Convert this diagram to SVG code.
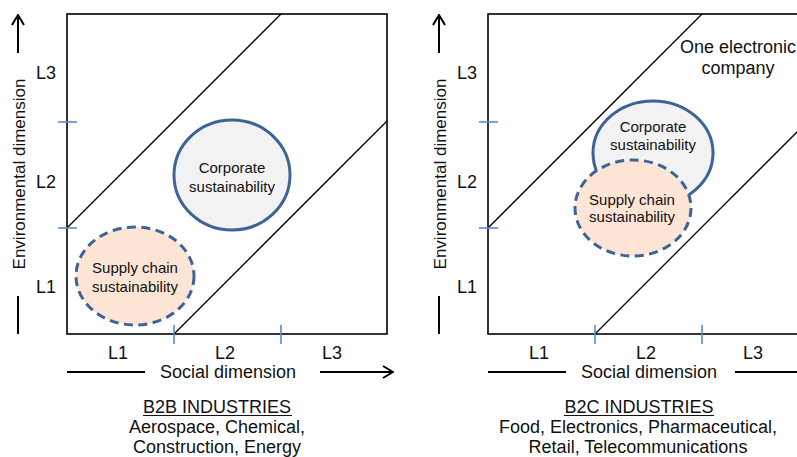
<svg xmlns="http://www.w3.org/2000/svg" width="797" height="457" viewBox="0 0 797 457">
<style>
text{font-family:"Liberation Sans",Arial,Helvetica,sans-serif;fill:#111}
.lbl{font-size:18px;text-anchor:middle}
.small{font-size:15px;text-anchor:middle}
.box{fill:#fff;stroke:#000;stroke-width:1.6}
.diag{stroke:#000;stroke-width:1.3;fill:none}
.tick{stroke:#5b8cc8;stroke-width:1.6}
.axis{stroke:#000;stroke-width:2;fill:none}
.corp{fill:#f2f2f2;stroke:#3d6494;stroke-width:3}
.supp{fill:#fce5d5;stroke:#3d6494;stroke-width:3;stroke-dasharray:9 5.5}
.ul{stroke:#111;stroke-width:1.2}
</style>
<defs>
<marker id="arr" viewBox="0 0 12 14" refX="11" refY="7" markerWidth="12" markerHeight="14" markerUnits="userSpaceOnUse" orient="auto">
<path d="M1,1 L11,7 L1,13" fill="none" stroke="#000" stroke-width="2"/>
</marker>
</defs>

<g id="panel-left">
<rect class="box" x="67" y="14" width="320" height="320"/>
<line class="diag" x1="67" y1="228" x2="281" y2="14"/>
<line class="diag" x1="174" y1="334" x2="387" y2="121"/>
<line class="tick" x1="58" y1="122" x2="77" y2="122"/>
<line class="tick" x1="58" y1="228" x2="77" y2="228"/>
<line class="tick" x1="174" y1="325" x2="174" y2="344"/>
<line class="tick" x1="281" y1="325" x2="281" y2="344"/>
<text class="lbl" x="46" y="79">L3</text>
<text class="lbl" x="46" y="188">L2</text>
<text class="lbl" x="46" y="293">L1</text>
<text class="lbl" x="118" y="359">L1</text>
<text class="lbl" x="225" y="359">L2</text>
<text class="lbl" x="332" y="359">L3</text>
</g>

<g id="node-corporate-left">
<ellipse class="corp" cx="232" cy="175" rx="58" ry="55"/>
<text class="small" x="232" y="173">Corporate</text>
<text class="small" x="232" y="192">sustainability</text>
</g>
<g id="node-supply-left">
<ellipse class="supp" cx="135" cy="276" rx="59" ry="49"/>
<text class="small" x="135" y="273">Supply chain</text>
<text class="small" x="135" y="292">sustainability</text>
</g>

<g id="axes-left">
<line class="axis" x1="67" y1="372" x2="145" y2="372"/>
<text class="lbl" x="228" y="378">Social dimension</text>
<line class="axis" x1="320" y1="372" x2="393" y2="372" marker-end="url(#arr)"/>
<line class="axis" x1="18" y1="334" x2="18" y2="296"/>
<text class="lbl" font-size="17" style="font-size:17px" transform="translate(25,174) rotate(-90)">Environmental dimension</text>
<line class="axis" x1="18" y1="53" x2="18" y2="15" marker-end="url(#arr)"/>
</g>

<g id="caption-left">
<text class="lbl" x="217" y="413">B2B INDUSTRIES</text>
<line class="ul" x1="143" y1="415.5" x2="292" y2="415.5"/>
<text class="lbl" x="217" y="433">Aerospace, Chemical,</text>
<text class="lbl" x="217" y="453">Construction, Energy</text>
</g>

<g id="panel-right">
<rect class="box" x="488" y="14" width="320" height="320"/>
<line class="diag" x1="488" y1="228" x2="702" y2="14"/>
<line class="diag" x1="595" y1="334" x2="808" y2="121"/>
<line class="tick" x1="479" y1="122" x2="498" y2="122"/>
<line class="tick" x1="479" y1="228" x2="498" y2="228"/>
<line class="tick" x1="595" y1="325" x2="595" y2="344"/>
<line class="tick" x1="702" y1="325" x2="702" y2="344"/>
<text class="lbl" x="467" y="79">L3</text>
<text class="lbl" x="467" y="188">L2</text>
<text class="lbl" x="467" y="293">L1</text>
<text class="lbl" x="539" y="359">L1</text>
<text class="lbl" x="646" y="359">L2</text>
<text class="lbl" x="753" y="359">L3</text>
<text class="lbl" x="738" y="53">One electronic</text>
<text class="lbl" x="738" y="74">company</text>
</g>

<g id="node-corporate-right">
<ellipse class="corp" cx="653" cy="153" rx="60" ry="52"/>
<text class="small" x="653" y="132">Corporate</text>
<text class="small" x="653" y="150">sustainability</text>
</g>
<g id="node-supply-right">
<ellipse class="supp" cx="633" cy="208" rx="58" ry="48"/>
<text class="small" x="632" y="205">Supply chain</text>
<text class="small" x="632" y="222">sustainability</text>
</g>

<g id="axes-right">
<line class="axis" x1="488" y1="372" x2="566" y2="372"/>
<text class="lbl" x="649" y="378">Social dimension</text>
<line class="axis" x1="735" y1="372" x2="814" y2="372" marker-end="url(#arr)"/>
<line class="axis" x1="439" y1="334" x2="439" y2="296"/>
<text class="lbl" style="font-size:17px" transform="translate(446,174) rotate(-90)">Environmental dimension</text>
<line class="axis" x1="439" y1="53" x2="439" y2="15" marker-end="url(#arr)"/>
</g>

<g id="caption-right">
<text class="lbl" x="639" y="413">B2C INDUSTRIES</text>
<line class="ul" x1="564" y1="415.5" x2="714" y2="415.5"/>
<text class="lbl" x="638" y="433">Food, Electronics, Pharmaceutical,</text>
<text class="lbl" x="638" y="453">Retail, Telecommunications</text>
</g>
</svg>
